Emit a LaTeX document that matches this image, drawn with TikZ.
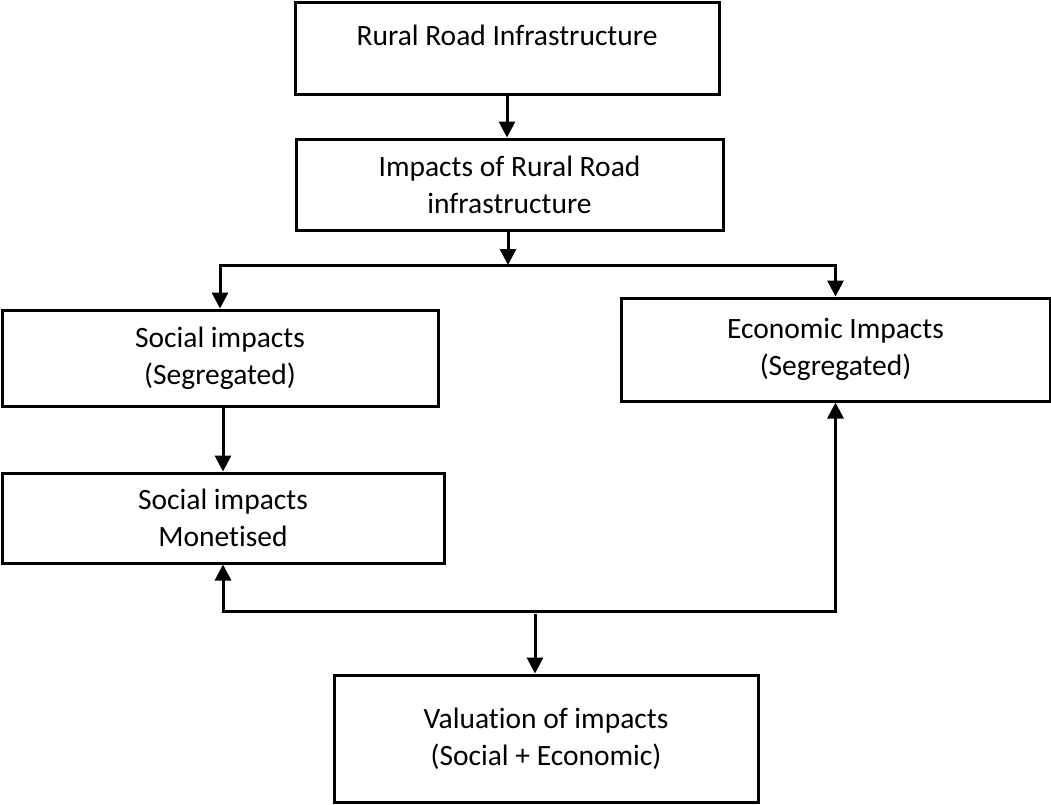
\documentclass[tikz,border=0pt]{standalone}
\usepackage{fontspec}
\setmainfont{Carlito}[Ligatures=NoCommon]
\usetikzlibrary{arrows.meta}
\begin{document}
\begin{tikzpicture}[x=1pt,y=-1pt,
  box/.style={draw, line width=3pt, rectangle, inner sep=0pt, align=center,
    font=\fontsize{29.5}{37}\selectfont},
  arr/.style={line width=3pt, -{Triangle[length=16pt,width=16pt]}}]
  \useasboundingbox (0,0) rectangle (1051,804);

  % boxes (centre, size)
  \node[box, minimum width=424pt, text height=43pt, text depth=49pt]
    (infra) at (507,48) {Rural Road Infrastructure};
  \node[box, minimum width=427pt, minimum height=91pt]
    (impacts) at (509.5,184.5) {Impacts of Rural Road\\infrastructure};
  \node[box, minimum width=436pt, minimum height=96pt]
    (social) at (220,358) {Social impacts\\(Segregated)};
  \node[box, minimum width=442pt, minimum height=90pt]
    (money) at (223,518) {Social impacts\\Monetised};
  \node[box, minimum width=429pt, minimum height=103pt]
    (econ) at (835.5,349.5) {Economic Impacts\\(Segregated)};
  \node[box, minimum width=424pt, minimum height=127pt]
    (value) at (546,738.5) {Valuation of impacts\\(Social + Economic)};

  % branching and merging points
  \coordinate (split) at (508,265);
  \coordinate (merge) at (535,611);

  % top part of the flow
  \draw[arr] (infra.south) -- (infra.south |- impacts.north);
  \draw[arr] (impacts.south -| split) -- (split);
  \draw[arr] (split) -| (social.north);
  \draw[arr] (split) -| (econ.north);
  \draw[arr] (social.south -| money.north) -- (money.north);

  % bottom part of the flow
  \draw[arr] ([yshift=-3pt]merge) -- (merge |- value.north);
  \draw[arr] (merge) -| (money.south);
  \draw[arr] (merge) -| (econ.south);
\end{tikzpicture}
\end{document}
